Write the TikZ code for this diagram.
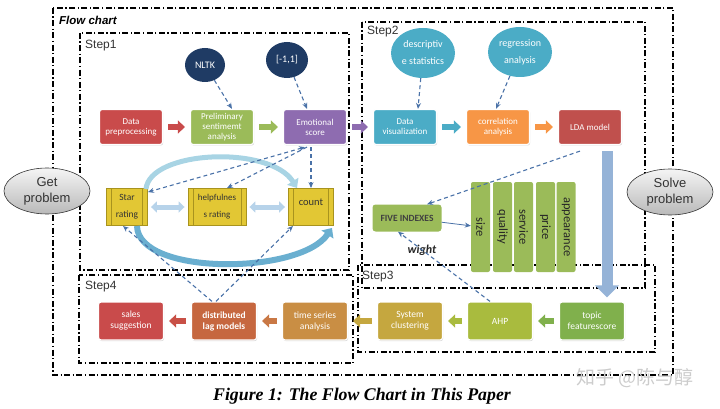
\documentclass[tikz,border=0pt]{standalone}
\usepackage{fontspec}
\setmainfont{Carlito}
\newfontfamily\labfont{Liberation Sans}
\newfontfamily\capfont{Liberation Serif}
\newfontfamily\cjk{Noto Sans CJK SC}
\usetikzlibrary{arrows.meta,shadows,shapes.geometric}
\definecolor{cRed}{HTML}{C94B4B}
\definecolor{cRedB}{HTML}{C0504D}
\definecolor{cGreen}{HTML}{9BBB59}
\definecolor{cPurple}{HTML}{8E6CB0}
\definecolor{cTeal}{HTML}{4BACC6}
\definecolor{cOrange}{HTML}{F79646}
\definecolor{cNavy}{HTML}{1F3B64}
\definecolor{cSteel}{HTML}{95B3D7}
\definecolor{cDash}{HTML}{4A72A8}
\definecolor{cTopic}{HTML}{80B04C}
\definecolor{cYG}{HTML}{A9BB3E}
\definecolor{cGold}{HTML}{C5A73F}
\definecolor{cTS}{HTML}{C98E44}
\definecolor{cDL}{HTML}{C6673F}
\definecolor{cTSarr}{HTML}{C97845}
\definecolor{cDLarr}{HTML}{C85046}
\definecolor{cYel}{HTML}{E2C734}
\definecolor{cYelD}{HTML}{A8931E}
\definecolor{cLB}{HTML}{B7D3EA}
\definecolor{cArcA}{HTML}{A8D4E4}
\definecolor{cArcB}{HTML}{6AAFD0}
\tikzset{
  frame/.style={draw=black, line width=1.1pt, dash pattern=on 6pt off 2.5pt on 1.2pt off 2.5pt},
  box/.style={rectangle, rounded corners=2.5pt, draw=white, line width=1.2pt, text=white,
    font=\fontsize{9}{10}\selectfont, align=center, minimum width=63pt, minimum height=35pt,
    inner sep=1pt, drop shadow={shadow xshift=0.7pt, shadow yshift=-1pt, opacity=0.35}},
  boxlow/.style={box, minimum width=65pt, minimum height=38pt, font=\fontsize{9.5}{11}\selectfont},
  navyell/.style={ellipse, fill=cNavy, text=white, inner sep=0pt, font=\fontsize{10}{11}\selectfont},
  tealell/.style={ellipse, fill=cTeal, text=white, inner sep=0pt, align=center,
    minimum width=64pt, minimum height=50pt, font=\fontsize{10}{17}\selectfont},
  grayell/.style={ellipse, top color=gray!8, bottom color=gray!55, draw=gray!40!black, line width=0.6pt,
    inner sep=0pt, align=center, minimum width=86pt, minimum height=46pt, text=black!80,
    font=\labfont\fontsize{13}{16}\selectfont},
  fivebox/.style={rectangle, rounded corners=3pt, fill=cGreen, minimum width=69pt, minimum height=27pt,
    inner sep=0pt, text=black!75, font=\bfseries\fontsize{9.5}{10}\selectfont},
  bar/.style={rectangle, rounded corners=2pt, fill=cGreen, rotate=-90, minimum width=90pt,
    minimum height=19pt, inner sep=0pt, text=black!85, font=\fontsize{12.5}{13}\selectfont},
  ybox/.style={rectangle, fill=cYel, draw=cYelD, line width=0.9pt, text=black!80, align=center,
    inner sep=0pt, minimum height=37pt,
    path picture={
      \draw[cYelD, line width=0.9pt] ([xshift=5pt]path picture bounding box.north west) -- ([xshift=5pt]path picture bounding box.south west);
      \draw[cYelD, line width=0.9pt] ([xshift=-5pt]path picture bounding box.north east) -- ([xshift=-5pt]path picture bounding box.south east);}},
  blk/.style={line width=6pt, -{Triangle[width=13pt,length=7pt]}, shorten <=5pt, shorten >=5pt},
  dbl/.style={line width=5pt, draw=cLB, {Triangle[width=11pt,length=6pt]}-{Triangle[width=11pt,length=6pt]}, shorten <=3pt, shorten >=3pt},
  dsh/.style={draw=cDash, line width=1.1pt, dash pattern=on 4pt off 3pt, -{Stealth[length=6pt,width=5pt]}},
  steplab/.style={anchor=west, inner sep=0pt, text=black!80, font=\labfont\fontsize{12}{12}\selectfont}
}
\begin{document}
\begin{tikzpicture}[x=1pt,y=-1pt]
\useasboundingbox (0,0) rectangle (720,409);
% frames
\draw[frame] (53,8) rectangle (673,375);
\draw[frame] (80,33) rectangle (349,270);
\draw[frame] (362,22) rectangle (645,288);
\draw[frame] (358,265) rectangle (655,352);
\draw[frame] (79,275) rectangle (353,363);
\node[anchor=west, inner sep=0pt, font=\labfont\bfseries\itshape\fontsize{11.5}{12}\selectfont] (fc) at (59,20) {Flow chart};
\node[steplab] (s1) at (85,46) {Step1};
\node[steplab] (s2) at (367,32) {Step2};
\node[steplab] (s3) at (362,277) {Step3};
\node[steplab] (s4) at (85,287) {Step4};
% side ellipses
\node[grayell] (get) at (47,191) {Get\\problem};
\node[grayell] (solve) at (670,192) {Solve\\problem};
% step1 top row
\node[box, fill=cRed] (dp) at (131,127) {Data\\preprocessing};
\node[box, fill=cGreen] (psa) at (222,127) {Preliminary\\sentimemt\\analysis};
\node[box, fill=cPurple] (es) at (315,127) {Emotional\\score};
\node[navyell, minimum width=40pt, minimum height=34pt] (nltk) at (205,65) {NLTK};
\node[navyell, minimum width=42pt, minimum height=36pt] (rng) at (287,60) {[-1,1]};
% step2
\node[box, fill=cTeal] (dv) at (405,127) {Data\\visualization};
\node[box, fill=cOrange] (ca) at (498,127) {correlation\\analysis};
\node[box, fill=cRedB] (lda) at (590,127) {LDA model};
\node[tealell] (desc) at (423,53) {descriptiv\\e statistics};
\node[tealell] (reg) at (520,52) {regression\\analysis};
% five indexes
\node[fivebox] (five) at (407,218) {FIVE INDEXES};
\node[bar] (b1) at (480.5,227) {size};
\node[bar] (b2) at (502.5,227) {quality};
\node[bar] (b3) at (523.5,227) {service};
\node[bar] (b4) at (545.5,227) {price};
\node[bar] (b5) at (566,227) {appearance};
\node[inner sep=0pt, text=black!85, font=\bfseries\itshape\fontsize{12}{12}\selectfont] (wt) at (422,250) {wight};
% step3 / step4 rows
\node[boxlow, fill=cTopic] (tfs) at (592,321) {topic\\featurescore};
\node[boxlow, fill=cYG] (ahp) at (500,321) {AHP};
\node[boxlow, fill=cGold] (sc) at (410,321) {System\\clustering};
\node[boxlow, fill=cTS] (tsa) at (315,321) {time series\\analysis};
\node[boxlow, fill=cDL, font=\bfseries\fontsize{9.5}{11}\selectfont] (dlm) at (224,321) {distributed\\lag models};
\node[boxlow, fill=cRed] (ss) at (131,321) {sales\\suggestion};
% yellow boxes
\node[ybox, minimum width=41pt, font=\fontsize{9.5}{17}\selectfont] (star) at (127,207) {Star\\rating};
\node[ybox, minimum width=58pt, font=\fontsize{9}{17}\selectfont] (help) at (217,207) {helpfulnes\\s rating};
\node[ybox, minimum width=45pt, font=\fontsize{10.5}{10}\selectfont] (count) at (311,207) {count\\\mbox{}};
% curved arrows
\draw[line width=5pt, draw=cArcA, -{Triangle[width=13pt,length=8pt]}] ([xshift=-2pt,yshift=-1pt]star.north east) .. controls (150,150) and (270,145) .. ([xshift=-14pt]count.north);
\draw[line width=6pt, draw=cArcB, -{Triangle[width=14pt,length=8pt]}] ([xshift=10pt]star.south) .. controls (138,276) and (300,275) .. ([xshift=-2pt,yshift=-2pt]count.south east);
\draw[dbl] (star) -- (help);
\draw[dbl] (help) -- (count);
% block arrows
\draw[blk, cRed] (dp) -- (psa);
\draw[blk, cGreen] (psa) -- (es);
\draw[blk, cPurple] (es) -- (dv);
\draw[blk, cTeal] (dv) -- (ca);
\draw[blk, cOrange] (ca) -- (lda);
\draw[blk, cTopic] (tfs) -- (ahp);
\draw[blk, cYG] (ahp) -- (sc);
\draw[blk, cGold] (sc) -- (tsa);
\draw[blk, cTSarr] (tsa) -- (dlm);
\draw[blk, cDLarr] (dlm) -- (ss);
% big blue arrow
\draw[line width=11pt, draw=cSteel, -{Triangle[width=23pt,length=12pt]}] ([xshift=17pt,yshift=-6pt]lda.south) -- ([xshift=17pt,yshift=4pt]lda.south |- tfs.north);
% dashed connectors
\draw[dsh] (nltk) -- ([xshift=10pt]psa.north);
\draw[dsh] (rng) -- ([xshift=-8pt]es.north);
\draw[dsh] (desc) -- ([xshift=13pt]dv.north);
\draw[dsh] (reg) -- ([xshift=-2pt]ca.north);
\draw[dsh, {Stealth[length=6pt,width=5pt]}-{Stealth[length=6pt,width=5pt]}] ([xshift=-10pt,yshift=-2pt]es.south) -- ([yshift=-4pt]star.north east);
\draw[dsh] ([xshift=-8pt,yshift=-2pt]es.south) -- ([xshift=10pt]help.north);
\draw[dsh] ([xshift=-4pt,yshift=-2pt]es.south) -- (count.north);
\draw[dsh] ([xshift=-12pt]dlm.north) -- ([xshift=-4pt]star.south);
\draw[dsh] ([xshift=-8pt]dlm.north) -- ([xshift=-18pt]count.south);
\draw[dsh] ([xshift=-10pt,yshift=-6pt]lda.south) -- ([xshift=20pt]five.north);
\draw[dsh] ([xshift=-10pt]ahp.north) -- ([xshift=-9pt]five.south);
\draw[draw=cDash, line width=0.8pt, -{Stealth[length=6pt,width=5pt]}] (five) -- (b1);
% caption and watermark
\node[font=\capfont\bfseries\itshape\fontsize{17.8}{18}\selectfont] (cap) at (362,396) {Figure 1: The Flow Chart in This Paper};
\node[font=\cjk\fontsize{19}{19}\selectfont, text=gray!40] (wm) at (635,378) {知乎 @陈与醇};
\end{tikzpicture}
\end{document}
